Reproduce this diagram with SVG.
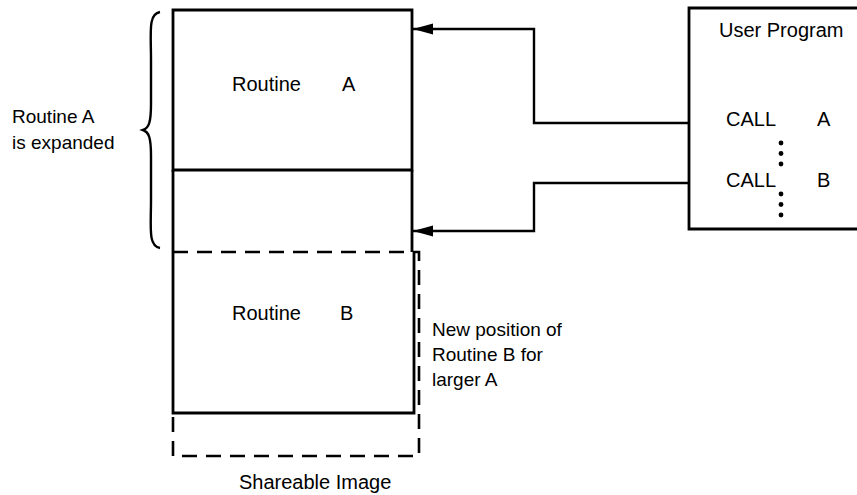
<svg xmlns="http://www.w3.org/2000/svg" width="857" height="495" viewBox="0 0 857 495">
<defs>
<style>
text{font-family:"Liberation Sans",Arial,sans-serif;font-size:20px;fill:#000}
.note{font-size:19px}
.box{fill:none;stroke:#000;stroke-width:2.8}
.dash{fill:none;stroke:#000;stroke-width:2.6;stroke-dasharray:15,9}
.wire{fill:none;stroke:#000;stroke-width:2.4}
</style>
<marker id="ah" markerWidth="20" markerHeight="12" refX="20" refY="6" orient="auto" markerUnits="userSpaceOnUse">
<path d="M0,0.5 L20,6 L0,11.5 Z" fill="#000"/>
</marker>
</defs>
<g id="brace">
<path d="M160,12 C148,14 151,32 151,60 L151,104 C151,122 149,128 143,130 C149,132 151,138 151,156 L151,200 C151,228 148,246 160,248" fill="none" stroke="#000" stroke-width="2.4"/>
<text class="note" x="12" y="123">Routine A</text>
<text class="note" x="12" y="149">is expanded</text>
</g>
<g id="routineA">
<path class="box" d="M173,10 H412 V170 H173 Z"/>
<text x="232" y="91">Routine</text>
<text x="342" y="91">A</text>
</g>
<g id="expanded">
<path class="box" d="M173,170 V252 M412,170 V252"/>
</g>
<g id="routineB">
<path class="box" d="M173,252 V413 H414 V252"/>
<text x="232" y="320">Routine</text>
<text x="340" y="320">B</text>
</g>
<g id="newposition">
<path class="dash" d="M173,252 H419 V456 H173 V413"/>
<text class="note" x="432" y="336">New position of</text>
<text class="note" x="432" y="361">Routine B for</text>
<text class="note" x="432" y="386">larger A</text>
</g>
<g id="userprogram">
<path class="box" d="M860,8 H689 V229 H860"/>
<text x="719" y="37">User Program</text>
<text x="726" y="126">CALL</text>
<text x="817" y="126">A</text>
<text x="726" y="187">CALL</text>
<text x="817" y="187">B</text>
<circle cx="781" cy="143" r="2.4"/>
<circle cx="781" cy="153.5" r="2.4"/>
<circle cx="781" cy="164" r="2.4"/>
<circle cx="781" cy="194" r="2.4"/>
<circle cx="781" cy="204.5" r="2.4"/>
<circle cx="781" cy="215" r="2.4"/>
</g>
<text id="caption" x="239" y="489">Shareable Image</text>
<g id="connectors">
<path class="wire" d="M689,123 H534 V29 H413" marker-end="url(#ah)"/>
<path class="wire" d="M689,183 H534 V231 H413" marker-end="url(#ah)"/>
</g>
</svg>
